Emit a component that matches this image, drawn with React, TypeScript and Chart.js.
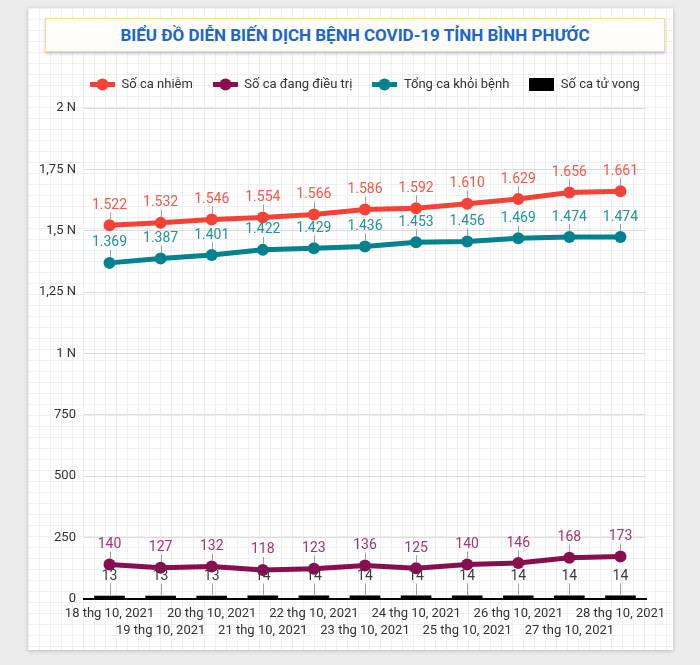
import React, { useEffect, useRef } from "react";
import { Chart, registerables } from "chart.js";

Chart.register(...registerables);

const dates = [
  "18 thg 10, 2021",
  "19 thg 10, 2021",
  "20 thg 10, 2021",
  "21 thg 10, 2021",
  "22 thg 10, 2021",
  "23 thg 10, 2021",
  "24 thg 10, 2021",
  "25 thg 10, 2021",
  "26 thg 10, 2021",
  "27 thg 10, 2021",
  "28 thg 10, 2021",
];
const infected = [1522, 1532, 1546, 1554, 1566, 1586, 1592, 1610, 1629, 1656, 1661];
const treating = [140, 127, 132, 118, 123, 136, 125, 140, 146, 168, 173];
const recovered = [1369, 1387, 1401, 1422, 1429, 1436, 1453, 1456, 1469, 1474, 1474];
const deaths = [13, 13, 13, 14, 14, 14, 14, 14, 14, 14, 14];

const yTickValues = [0, 250, 500, 750, 1000, 1250, 1500, 1750, 2000];
const yTickLabels = ["0", "250", "500", "750", "1 N", "1,25 N", "1,5 N", "1,75 N", "2 N"];

const seriesNames = ["Số ca nhiễm", "Số ca đang điều trị", "Tổng ca khỏi bệnh", "Số ca tử vong"];
const seriesColors = ["#f44336", "#880e4f", "#00838f", "#000000"];
const labelColors = ["#f5564a", "#a3346c", "#22929b", "#3c3c3c"];

const titleText = "BIỂU ĐỒ DIỄN BIẾN DỊCH BỆNH COVID-19 TỈNH BÌNH PHƯỚC";

function fmt(v: number): string {
  if (v >= 1000) {
    const r = v % 1000;
    return Math.floor(v / 1000) + "." + String(r).padStart(3, "0");
  }
  return String(v);
}

function makeLineMarker(color: string): HTMLCanvasElement {
  const c = document.createElement("canvas");
  c.width = 25;
  c.height = 13;
  const g = c.getContext("2d")!;
  g.fillStyle = color;
  g.fillRect(0, 4, 25, 5);
  g.beginPath();
  g.arc(12.5, 6.5, 6, 0, Math.PI * 2);
  g.fill();
  return c;
}

function makeBoxMarker(color: string): HTMLCanvasElement {
  const c = document.createElement("canvas");
  c.width = 25;
  c.height = 13;
  const g = c.getContext("2d")!;
  g.fillStyle = color;
  g.fillRect(0, 0, 25, 13);
  return c;
}

const labelPlugin = {
  id: "leaderLabels",
  afterDatasetsDraw(chart: any) {
    const ctx = chart.ctx as CanvasRenderingContext2D;
    ctx.save();
    ctx.font = "14px Roboto";
    ctx.textAlign = "center";
    ctx.textBaseline = "middle";
    chart.data.datasets.forEach((ds: any, i: number) => {
      const meta = chart.getDatasetMeta(i);
      const isBar = meta.type === "bar";
      meta.data.forEach((el: any, j: number) => {
        const v = ds.data[j];
        const x = el.x;
        const y = el.y;
        const lineFrom = isBar ? y : y - 6;
        const lineTo = isBar ? y - 12 : y - 13;
        const labelY = isBar ? y - 19 : y - 20;
        ctx.strokeStyle = "#a0a0a0";
        ctx.lineWidth = 1;
        ctx.beginPath();
        ctx.moveTo(Math.round(x) + 0.5, lineFrom);
        ctx.lineTo(Math.round(x) + 0.5, lineTo);
        ctx.stroke();
        ctx.fillStyle = labelColors[i];
        ctx.fillText(fmt(v), x, labelY);
      });
    });
    ctx.restore();
  },
};

export default function App() {
  const ref = useRef<HTMLCanvasElement>(null);

  useEffect(() => {
    if (!ref.current) return;
    Chart.defaults.font.family = "Roboto";
    const markers = [
      makeLineMarker(seriesColors[0]),
      makeLineMarker(seriesColors[1]),
      makeLineMarker(seriesColors[2]),
      makeBoxMarker(seriesColors[3]),
    ];
    const legendPlugin = {
      id: "centeredLegend",
      afterDraw(chart: any) {
        const ctx = chart.ctx as CanvasRenderingContext2D;
        ctx.save();
        ctx.font = "13px Roboto";
        ctx.textAlign = "left";
        ctx.textBaseline = "middle";
        const gap = 20;
        const widths = seriesNames.map((n) => ctx.measureText(n).width);
        const total = widths.reduce((a, w) => a + 31.5 + w, 0) + gap * (seriesNames.length - 1);
        const cx = (chart.chartArea.left + chart.chartArea.right) / 2;
        let x = cx - total / 2;
        const y = 25.5;
        seriesNames.forEach((name, i) => {
          ctx.drawImage(markers[i], Math.round(x), Math.round(y - 6.5));
          ctx.fillStyle = "#333333";
          ctx.fillText(name, x + 31.5, y);
          x += 31.5 + widths[i] + gap;
        });
        ctx.restore();
      },
    };
    const lineDs = (idx: number, data: number[]) => ({
      type: "line" as const,
      label: seriesNames[idx],
      data,
      borderColor: seriesColors[idx],
      backgroundColor: seriesColors[idx],
      borderWidth: 5,
      pointRadius: 6,
      pointHoverRadius: 6,
      pointBackgroundColor: seriesColors[idx],
      pointBorderWidth: 0,
      tension: 0,
      order: 0,
    });
    const chart = new Chart(ref.current, {
      type: "bar",
      data: {
        labels: dates,
        datasets: [
          lineDs(0, infected),
          lineDs(1, treating),
          lineDs(2, recovered),
          {
            type: "bar" as const,
            label: seriesNames[3],
            data: deaths,
            backgroundColor: seriesColors[3],
            barPercentage: 0.6,
            categoryPercentage: 1,
            order: 10,
          },
        ],
      } as any,
      options: {
        animation: false,
        responsive: false,
        devicePixelRatio: 1,
        layout: { padding: { left: 3, right: 27, top: 49, bottom: 3 } },
        plugins: {
          tooltip: { enabled: false },
          legend: { display: false },
        },
        scales: {
          x: {
            offset: true,
            grid: { display: false, drawTicks: false },
            border: { display: true, color: "#000000", width: 2 },
            ticks: {
              autoSkip: false,
              maxRotation: 0,
              minRotation: 0,
              padding: 6,
              color: "#333333",
              font: { size: 13, lineHeight: 1.35 },
              callback: (_v: any, i: number) => (i % 2 === 0 ? [dates[i], ""] : ["", dates[i]]),
            },
          },
          y: {
            min: 0,
            max: 2000,
            afterBuildTicks: (axis: any) => {
              axis.ticks = yTickValues.map((v) => ({ value: v }));
            },
            grid: { color: "#dcdcdc", lineWidth: 1, drawTicks: false },
            border: { display: false },
            ticks: {
              padding: 8,
              color: "#333333",
              font: { size: 13 },
              callback: (v: any) => {
                const k = yTickValues.indexOf(Number(v));
                return k >= 0 ? yTickLabels[k] : "";
              },
            },
          },
        },
      } as any,
      plugins: [labelPlugin, legendPlugin],
    });
    return () => chart.destroy();
  }, []);

  return (
    <div
      style={{
        position: "fixed",
        left: 0,
        top: 0,
        width: 700,
        height: 665,
        background: "#ececec",
        overflow: "hidden",
        fontFamily: "Roboto, sans-serif",
      }}
    >
      <div
        style={{
          position: "absolute",
          left: 28,
          top: 8,
          width: 645,
          height: 642,
          backgroundColor: "#ffffff",
          backgroundImage:
            "linear-gradient(#efefef 1px, transparent 1px), linear-gradient(90deg, #efefef 1px, transparent 1px)",
          backgroundSize: "11px 11px",
          boxShadow: "0 1px 4px rgba(0,0,0,0.22)",
        }}
      >
        <div
          style={{
            position: "absolute",
            left: 17,
            top: 10,
            width: 618,
            height: 32,
            background: "#fffefa",
            border: "1px solid #f7dc8a",
            boxShadow: "0 2px 3px rgba(0,0,0,0.2)",
            display: "flex",
            alignItems: "center",
            justifyContent: "center",
          }}
        >
          <span
            style={{
              display: "inline-block",
              fontWeight: 700,
              fontSize: 17,
              color: "#1a66cc",
              whiteSpace: "nowrap",
            }}
          >
            {titleText}
          </span>
        </div>
        <canvas
          ref={ref}
          width={645}
          height={590}
          style={{ position: "absolute", left: 0, top: 51, width: 645, height: 590 }}
        />
      </div>
    </div>
  );
}
